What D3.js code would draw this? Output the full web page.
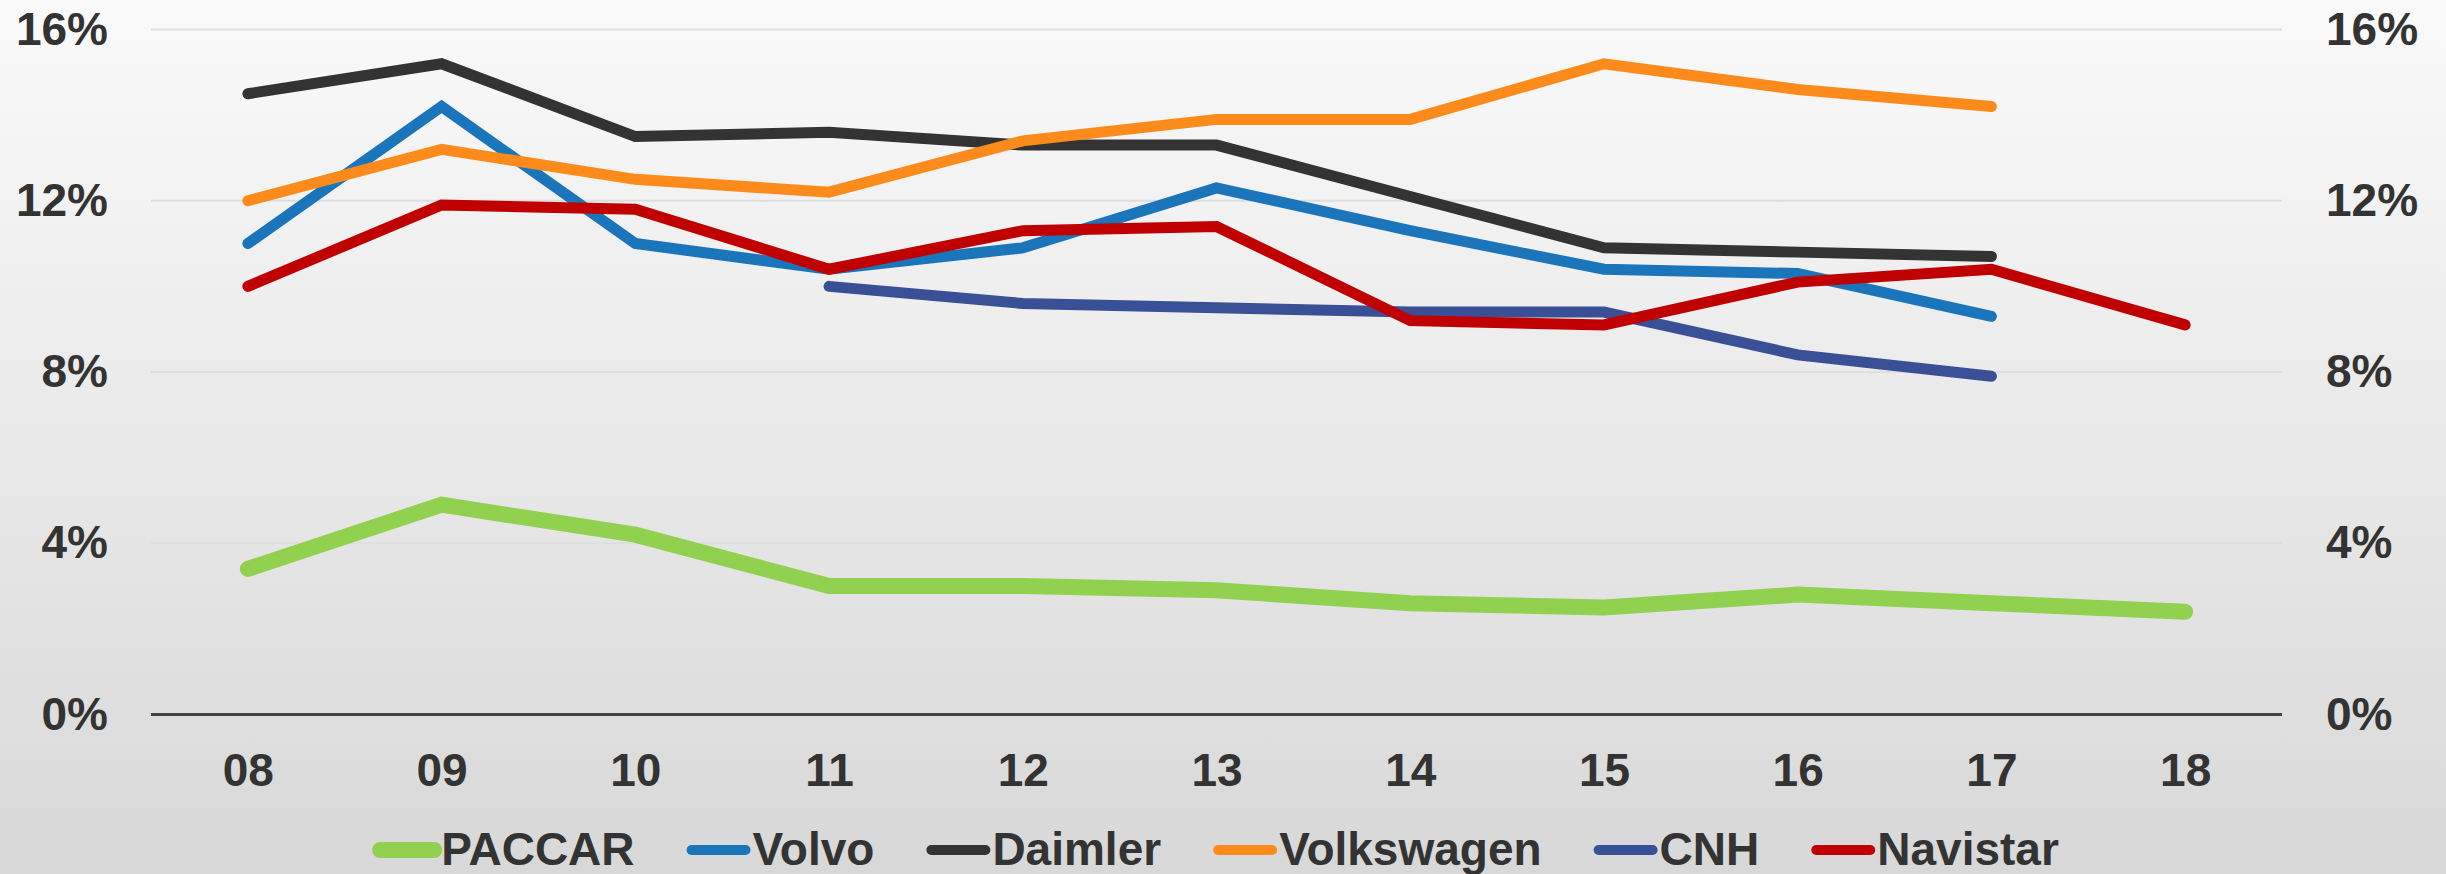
<!DOCTYPE html>
<html>
<head>
<meta charset="utf-8">
<script src="https://cdn.jsdelivr.net/npm/d3@7"></script>
<style>
  html, body { margin: 0; padding: 0; }
  body { width: 2446px; height: 874px; overflow: hidden; }
  svg text { font-family: "Liberation Sans", Arial, sans-serif; font-weight: bold; fill: #333; }
</style>
</head>
<body>
<div id="chart"></div>
<script>
  // chart values
  var years = ["08", "09", "10", "11", "12", "13", "14", "15", "16", "17", "18"];
  var yTicks = [0, 4, 8, 12, 16];
  var paccar     = [3.4, 4.9, 4.2, 3.0, 3.0, 2.9, 2.6, 2.5, 2.8, 2.6, 2.4];
  var volvo      = [11.0, 14.2, 11.0, 10.4, 10.9, 12.3, 11.3, 10.4, 10.3, 9.3, null];
  var daimler    = [14.5, 15.2, 13.5, 13.6, 13.3, 13.3, 12.1, 10.9, 10.8, 10.7, null];
  var volkswagen = [12.0, 13.2, 12.5, 12.2, 13.4, 13.9, 13.9, 15.2, 14.6, 14.2, null];
  var cnh        = [null, null, null, 10.0, 9.6, 9.5, 9.4, 9.4, 8.4, 7.9, null];
  var navistar   = [10.0, 11.9, 11.8, 10.4, 11.3, 11.4, 9.2, 9.1, 10.1, 10.4, 9.1];

  var series = [
    {name: "PACCAR",     values: paccar,     color: "#92d050", width: 16},
    {name: "Volvo",      values: volvo,      color: "#1b75bb", width: 11},
    {name: "Daimler",    values: daimler,    color: "#333333", width: 11},
    {name: "Volkswagen", values: volkswagen, color: "#fd8b1b", width: 11},
    {name: "CNH",        values: cnh,        color: "#3a5096", width: 11},
    {name: "Navistar",   values: navistar,   color: "#c00000", width: 11}
  ];

  var W = 2446, H = 874;
  var plotL = 151, plotR = 2282, plotT = 29.5, plotB = 714.5;

  var svg = d3.select("#chart").append("svg")
      .attr("width", W).attr("height", H);

  var grad = svg.append("defs").append("linearGradient")
      .attr("id", "bg").attr("x1", 0).attr("y1", 0).attr("x2", 0).attr("y2", 1);
  grad.append("stop").attr("offset", "0%").attr("stop-color", "#fafafa");
  grad.append("stop").attr("offset", "100%").attr("stop-color", "#d8d8d8");
  svg.append("rect").attr("width", W).attr("height", H).attr("fill", "url(#bg)");

  var x = d3.scalePoint().domain(years).range([plotL, plotR]).padding(0.5);
  var y = d3.scaleLinear().domain([0, 16]).range([plotB, plotT]);

  // gridlines
  svg.append("g").selectAll("line")
      .data(yTicks.filter(function (t) { return t > 0; }))
      .enter().append("line")
      .attr("x1", plotL).attr("x2", plotR)
      .attr("y1", function (d) { return y(d); })
      .attr("y2", function (d) { return y(d); })
      .attr("stroke", "#dedede").attr("stroke-width", 2);

  // axes
  var fmt = function (d) { return d + "%"; };
  function styleAxis(g) {
      g.select(".domain").remove();
      g.selectAll("text").style("font-size", "46px")
          .style("font-family", "'Liberation Sans', Arial, sans-serif")
          .style("font-weight", "bold").attr("fill", "#333");
  }
  svg.append("g").attr("transform", "translate(" + plotL + ",0)")
      .call(d3.axisLeft(y).tickValues(yTicks).tickFormat(fmt).tickSize(0).tickPadding(43))
      .call(styleAxis);
  svg.append("g").attr("transform", "translate(" + plotR + ",0)")
      .call(d3.axisRight(y).tickValues(yTicks).tickFormat(fmt).tickSize(0).tickPadding(44))
      .call(styleAxis);
  svg.append("g").attr("transform", "translate(0," + plotB + ")")
      .call(d3.axisBottom(x).tickSize(0).tickPadding(39))
      .call(styleAxis);

  svg.append("line")
      .attr("x1", plotL).attr("x2", plotR).attr("y1", y(0)).attr("y2", y(0))
      .attr("stroke", "#444").attr("stroke-width", 3);

  // lines
  var line = d3.line()
      .defined(function (d) { return d != null; })
      .x(function (d, i) { return x(years[i]); })
      .y(function (d) { return y(d); });

  svg.append("g").selectAll("path").data(series).enter().append("path")
      .attr("d", function (s) { return line(s.values); })
      .attr("fill", "none")
      .attr("stroke", function (s) { return s.color; })
      .attr("stroke-width", function (s) { return s.width; })
      .attr("stroke-linecap", "round")
      .attr("stroke-linejoin", "miter");

  // legend, centred under the plot
  var legend = svg.append("g");
  var items = legend.selectAll("g").data(series).enter().append("g");
  items.append("line")
      .attr("x1", 6).attr("x2", 60).attr("y1", 0).attr("y2", 0)
      .attr("stroke", function (s) { return s.color; })
      .attr("stroke-width", function (s) { return s.name == "PACCAR" ? 16 : 10; })
      .attr("stroke-linecap", "round");
  items.append("text")
      .attr("x", 67).attr("y", 15)
      .style("font-size", "46px")
      .text(function (s) { return s.name; });

  var gap = 51, pos = 0;
  items.each(function () {
      var g = d3.select(this);
      var w = 67 + g.select("text").node().getComputedTextLength();
      g.attr("transform", "translate(" + pos + ",0)");
      pos += w + gap;
  });
  var total = pos - gap;
  legend.attr("transform", "translate(" + ((plotL + plotR) / 2 - total / 2) + ",850)");
</script>
</body>
</html>
